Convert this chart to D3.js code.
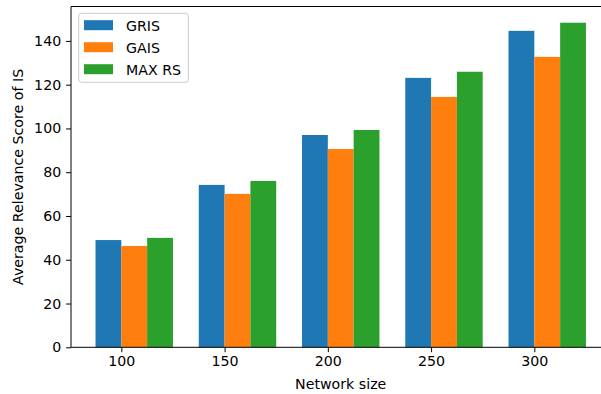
<!DOCTYPE html>
<html>
<head>
<meta charset="utf-8">
<script src="https://cdn.jsdelivr.net/npm/d3@7/dist/d3.min.js"></script>
<style>
  html, body { margin: 0; padding: 0; background: #ffffff; }
  svg { display: block; font-family: "DejaVu Sans", sans-serif; }
</style>
</head>
<body>
<svg id="chart" width="601" height="394"></svg>
<script>
// Network sizes on the x axis
const networkSizes = [100, 150, 200, 250, 300];
// Average relevance score of the influential set for each method
const grisScores  = [49.0, 74.2, 97.0, 123.1, 144.6];
const gaisScores  = [46.3, 70.1, 90.6, 114.4, 132.7];
const maxRsScores = [50.0, 76.0, 99.3, 125.9, 148.3];
const seriesNames = ["GRIS", "GAIS", "MAX RS"];
const seriesColors = ["#1f77b4", "#ff7f0e", "#2ca02c"];
const yTicks = [0, 20, 40, 60, 80, 100, 120, 140];

const series = [grisScores, gaisScores, maxRsScores];
const barWidth = 12.5; // in network-size units
const fontSize = 14.2;

const svg = d3.select("#chart");
const plot = { left: 71, top: 6.5, bottom: 347.3 };

// x extent: bars span [size - w, size + 2w], padded by 5% like matplotlib
const xLo = d3.min(networkSizes) - barWidth;
const xHi = d3.max(networkSizes) + 2 * barWidth;
const xPad = (xHi - xLo) * 0.05;
const pxPerUnit = 2.065;
const x = d3.scaleLinear()
  .domain([xLo - xPad, xHi + xPad])
  .range([plot.left, plot.left + (xHi - xLo + 2 * xPad) * pxPerUnit]);

const yMax = d3.max(series.flat()) * 1.05;
const y = d3.scaleLinear().domain([0, yMax]).range([plot.bottom, plot.top]);

// bars
series.forEach((vals, si) => {
  svg.append("g")
    .selectAll("rect")
    .data(vals)
    .join("rect")
    .attr("x", (d, i) => x(networkSizes[i] + (si - 1) * barWidth))
    .attr("width", x(barWidth) - x(0))
    .attr("y", d => y(d))
    .attr("height", d => y(0) - y(d))
    .attr("fill", seriesColors[si]);
});

// axes
const xAxis = d3.axisBottom(x).tickValues(networkSizes).tickSize(4.9).tickPadding(3.5);
const gx = svg.append("g").attr("transform", `translate(0,${plot.bottom})`).call(xAxis);
gx.select(".domain").attr("d", `M${plot.left},0H${x.range()[1]}`);

const yAxis = d3.axisLeft(y).tickValues(yTicks).tickSize(4.9).tickPadding(4.9);
const gy = svg.append("g").attr("transform", `translate(${plot.left},0)`).call(yAxis);
gy.select(".domain").attr("d", `M0,${plot.bottom}V${plot.top}`);

// top spine
svg.append("line")
  .attr("x1", plot.left).attr("x2", x.range()[1])
  .attr("y1", plot.top).attr("y2", plot.top)
  .attr("stroke", "#000").attr("stroke-width", 1);

[gx, gy].forEach(g => {
  g.selectAll(".domain").attr("stroke", "#000").attr("stroke-width", 1);
  g.selectAll(".tick line").attr("stroke", "#000").attr("stroke-width", 1);
  g.selectAll(".tick text")
    .attr("font-family", "DejaVu Sans, sans-serif")
    .attr("font-size", fontSize)
    .attr("fill", "#000");
});

// axis titles
const plotCenterX = (x.range()[0] + x.range()[1]) / 2;
svg.append("text")
  .attr("x", plotCenterX).attr("y", 389.3)
  .attr("text-anchor", "middle")
  .attr("font-size", fontSize)
  .text("Network size");

svg.append("text")
  .attr("transform", `translate(22.8,${(plot.top + plot.bottom) / 2}) rotate(-90)`)
  .attr("text-anchor", "middle")
  .attr("font-size", fontSize)
  .text("Average Relevance Score of IS");

// legend
const legend = svg.append("g").attr("transform", "translate(78.7,13.3)");
legend.append("rect")
  .attr("x", 0).attr("y", 0).attr("width", 109.6).attr("height", 69)
  .attr("rx", 3).attr("ry", 3)
  .attr("fill", "#ffffff").attr("fill-opacity", 0.8)
  .attr("stroke", "#cccccc").attr("stroke-width", 1);

seriesNames.forEach((name, i) => {
  const row = legend.append("g").attr("transform", `translate(0,${i * 22})`);
  row.append("rect")
    .attr("x", 5.3).attr("y", 6.9).attr("width", 29).attr("height", 10)
    .attr("fill", seriesColors[i]);
  row.append("text")
    .attr("x", 47.3).attr("y", 17.4)
    .attr("font-size", fontSize)
    .text(name);
});
</script>
</body>
</html>
